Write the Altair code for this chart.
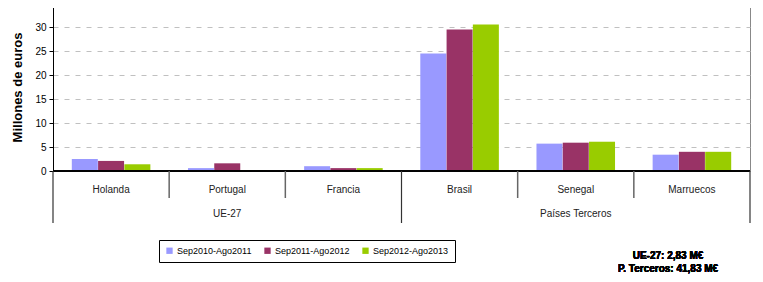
import altair as alt
import pandas as pd

categories = ["Holanda", "Portugal", "Francia", "Brasil", "Senegal", "Marruecos"]
groups = ["UE-27", "Países Terceros"]
group_centers = ["Portugal", "Senegal"]
series = ["Sep2010-Ago2011", "Sep2011-Ago2012", "Sep2012-Ago2013"]
v1 = [2.5, 0.6, 1.0, 24.5, 5.7, 3.4]
v2 = [2.1, 1.6, 0.6, 29.5, 5.9, 4.0]
v3 = [1.4, 0.15, 0.6, 30.5, 6.1, 4.0]
colors = ["#9999FF", "#993366", "#99CC00"]
notes = ["UE-27: 2,83 M€", "P. Terceros: 41,83 M€"]

rows = []
for s, vals in zip(series, [v1, v2, v3]):
    for c, v in zip(categories, vals):
        rows.append({"cat": c, "serie": s, "valor": v})
df = pd.DataFrame(rows)
cat_df = pd.DataFrame({"cat": categories})
grp_df = pd.DataFrame({"cat": group_centers, "grupo": groups})
short_df = pd.DataFrame({"cat": ["Portugal", "Francia", "Senegal", "Marruecos"]})
long_df = pd.DataFrame({"cat": ["Holanda", "Brasil"]})
end_df = pd.DataFrame({"cat": ["Marruecos"]})

W, H = 697, 168
xscale = alt.Scale(domain=categories, paddingInner=0, paddingOuter=0)

bars = alt.Chart(df).mark_bar(size=26).encode(
    x=alt.X("cat:N", scale=xscale, axis=None, sort=categories),
    xOffset=alt.XOffset("serie:N", scale=alt.Scale(domain=series, paddingInner=0, paddingOuter=0.71)),
    y=alt.Y("valor:Q", scale=alt.Scale(domain=[0, 35]),
            axis=alt.Axis(values=[0, 5, 10, 15, 20, 25, 30, 35], title="Millones de euros",
                          titleFontSize=13, titleFontWeight="bold", titleColor="black",
                          titlePadding=10, labelFontSize=10, labelColor="black",
                          domainColor="black", tickColor="black", tickSize=4,
                          labelPadding=3, gridColor="#C0C0C0", gridDash=[5, 6])),
    color=alt.Color("serie:N", scale=alt.Scale(domain=series, range=colors),
                    legend=alt.Legend(orient="none", legendX=106, legendY=237,
                                      direction="horizontal", title=None,
                                      strokeColor="black", padding=6,
                                      symbolType="square", symbolSize=40,
                                      symbolStrokeWidth=0, labelFontSize=9,
                                      labelColor="black", columnPadding=11,
                                      labelOffset=3, fillColor="white")),
)

baseline = alt.Chart(cat_df).mark_rule(color="black", strokeWidth=1).encode(
    y=alt.value(H))

cat_labels = alt.Chart(cat_df).mark_text(fontSize=10, color="#222", baseline="middle").encode(
    x=alt.X("cat:N", scale=xscale, axis=None), y=alt.value(187), text="cat:N")

grp_labels = alt.Chart(grp_df).mark_text(fontSize=10, color="#222", baseline="middle").encode(
    x=alt.X("cat:N", scale=xscale, axis=None), y=alt.value(211), text="grupo:N")

short_rules = alt.Chart(short_df).mark_rule(color="#666", strokeWidth=1.5).encode(
    x=alt.X("cat:N", scale=xscale, axis=None, bandPosition=0),
    y=alt.value(H), y2=alt.value(195))

long_rules = alt.Chart(long_df).mark_rule(color="#333", strokeWidth=1.2).encode(
    x=alt.X("cat:N", scale=xscale, axis=None, bandPosition=0),
    y=alt.value(H), y2=alt.value(220))

end_rule = alt.Chart(end_df).mark_rule(color="#333", strokeWidth=1.2).encode(
    x=alt.X("cat:N", scale=xscale, axis=None, bandPosition=1),
    y=alt.value(H), y2=alt.value(220))

note_text = alt.Chart(cat_df).mark_text(fontSize=10, fontWeight="bold", color="black",
                                         align="center", baseline="middle",
                                         lineHeight=13).encode(
    x=alt.value(615), y=alt.value(253), text=alt.value(notes))

chart = alt.layer(bars, baseline, short_rules, long_rules, end_rule, cat_labels, grp_labels,
                  note_text).properties(
    width=W, height=H,
    padding={"left": 45, "top": -5, "right": 5, "bottom": 104},
    autosize=alt.AutoSizeParams(type="none"),
).configure(font="Liberation Sans").configure_view(stroke="#888888", strokeWidth=1)

chart.save("out.html", embed_options={"renderer": "svg", "actions": False})
